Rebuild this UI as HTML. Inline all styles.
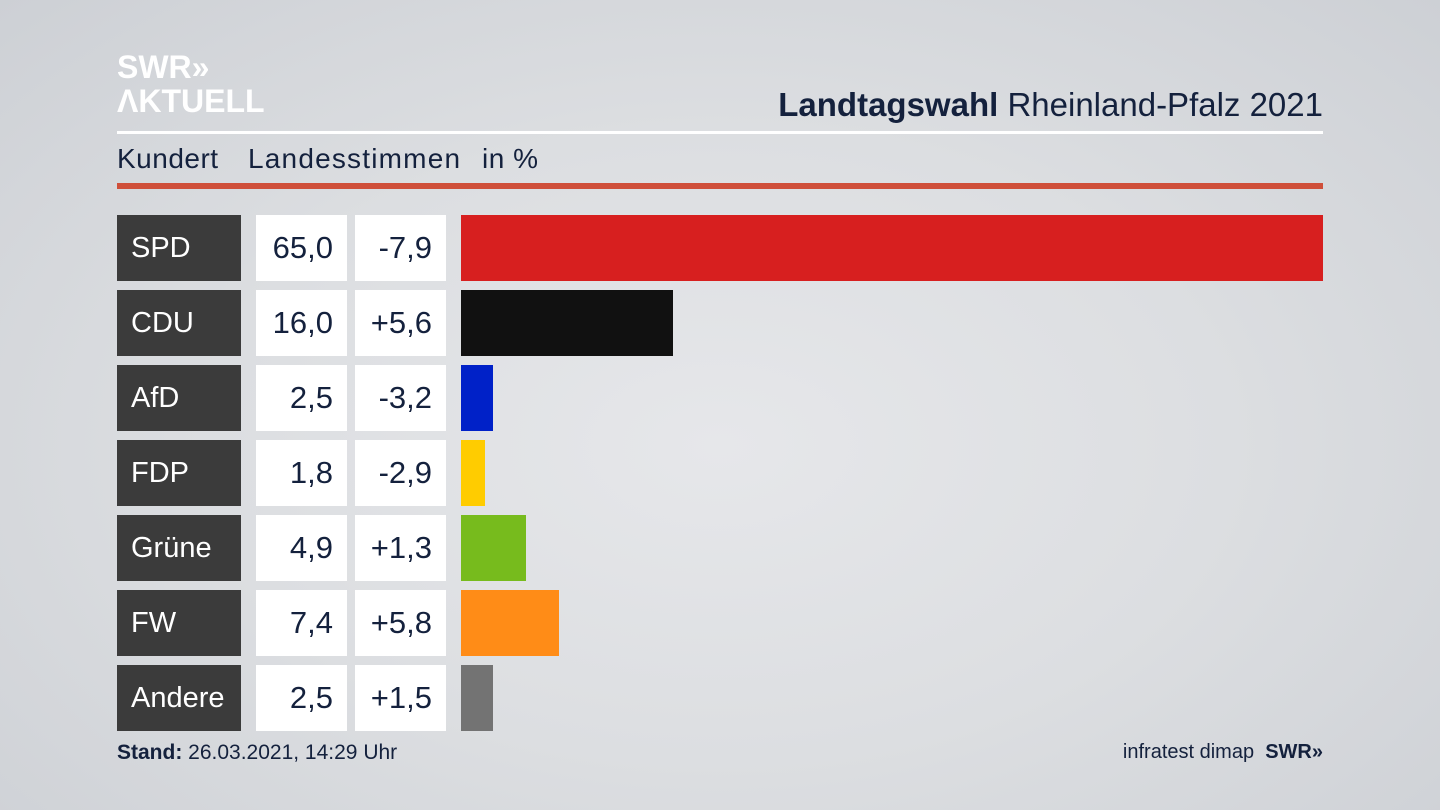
<!DOCTYPE html>
<html><head><meta charset="utf-8"><style>
*{margin:0;padding:0;box-sizing:border-box}
body{width:1440px;height:810px;overflow:hidden;position:relative;font-family:"Liberation Sans","DejaVu Sans",sans-serif;background:radial-gradient(ellipse at 50% 55%,#e6e7ea 0%,#dcdee1 50%,#cdd0d5 100%);color:#14213d}
.abs{position:absolute}
.lab{left:117px;width:124px;height:66px;background:#3b3b3b;color:#fff;font-size:29px;line-height:66px;padding-left:14px}
.val{width:91px;height:66px;background:#fff;font-size:31px;line-height:66px;text-align:right;padding-right:14px;color:#14213d}
.bar{left:461px;height:66px}
.sub{top:143px;font-size:28px;color:#14213d;letter-spacing:0.5px}
</style></head><body>
<div class="abs" style="left:117px;top:50px;color:#fff;font-weight:bold;font-size:32px;line-height:34px">SWR&#187;<br>ΛKTUELL</div>
<div class="abs" style="right:117px;top:86px;font-size:33px;color:#14213d"><b>Landtagswahl</b> Rheinland-Pfalz 2021</div>
<div class="abs" style="left:117px;top:131px;width:1206px;height:3px;background:#fff"></div>
<div class="abs sub" style="left:117px">Kundert</div>
<div class="abs sub" style="left:248px;letter-spacing:1.2px">Landesstimmen</div>
<div class="abs sub" style="left:482px">in %</div>
<div class="abs" style="left:117px;top:183px;width:1206px;height:6px;background:#cf4f3a"></div>

<div class="abs lab" style="top:215px">SPD</div><div class="abs val" style="left:256px;top:215px">65,0</div><div class="abs val" style="left:355px;top:215px">-7,9</div><div class="abs bar" style="top:215px;width:862px;background:#d71f1f"></div>
<div class="abs lab" style="top:290px">CDU</div><div class="abs val" style="left:256px;top:290px">16,0</div><div class="abs val" style="left:355px;top:290px">+5,6</div><div class="abs bar" style="top:290px;width:212px;background:#111"></div>
<div class="abs lab" style="top:365px">AfD</div><div class="abs val" style="left:256px;top:365px">2,5</div><div class="abs val" style="left:355px;top:365px">-3,2</div><div class="abs bar" style="top:365px;width:32px;background:#0021c8"></div>
<div class="abs lab" style="top:440px">FDP</div><div class="abs val" style="left:256px;top:440px">1,8</div><div class="abs val" style="left:355px;top:440px">-2,9</div><div class="abs bar" style="top:440px;width:24px;background:#ffcc00"></div>
<div class="abs lab" style="top:515px">Grüne</div><div class="abs val" style="left:256px;top:515px">4,9</div><div class="abs val" style="left:355px;top:515px">+1,3</div><div class="abs bar" style="top:515px;width:65px;background:#77bb1d"></div>
<div class="abs lab" style="top:590px">FW</div><div class="abs val" style="left:256px;top:590px">7,4</div><div class="abs val" style="left:355px;top:590px">+5,8</div><div class="abs bar" style="top:590px;width:98px;background:#ff8c17"></div>
<div class="abs lab" style="top:665px">Andere</div><div class="abs val" style="left:256px;top:665px">2,5</div><div class="abs val" style="left:355px;top:665px">+1,5</div><div class="abs bar" style="top:665px;width:32px;background:#737373"></div>

<div class="abs" style="left:117px;top:741px;font-size:21px;color:#14213d"><b>Stand:</b> 26.03.2021, 14:29 Uhr</div>
<div class="abs" style="right:117px;top:741px;font-size:20px;color:#14213d">infratest dimap&nbsp; <b>SWR&#187;</b></div>
</body></html>
